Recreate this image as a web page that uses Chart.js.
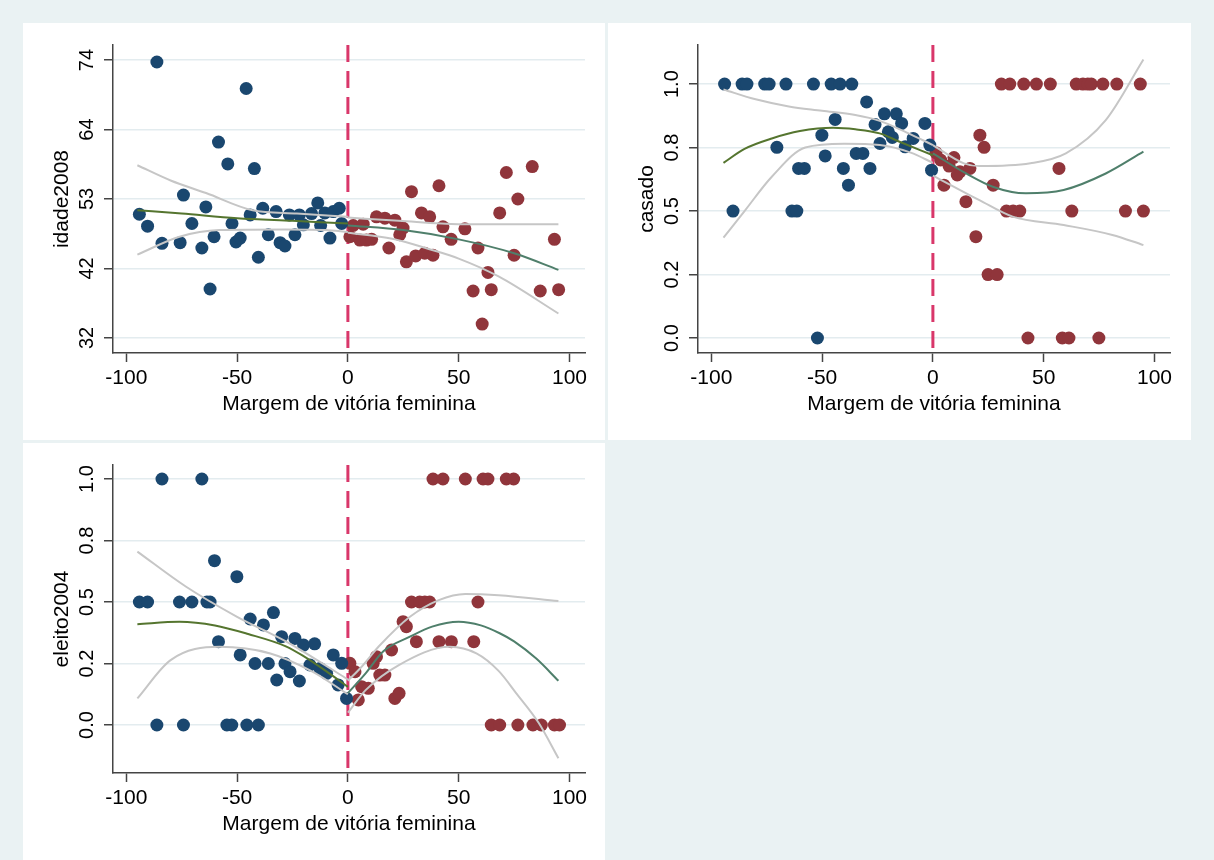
<!DOCTYPE html>
<html>
<head>
<meta charset="utf-8">
<script src="https://cdn.jsdelivr.net/npm/chart.js@4.4.1/dist/chart.umd.min.js"></script>
<style>
  html, body { margin: 0; padding: 0; background: #eaf2f3; }
  body { width: 1214px; height: 860px; position: relative; overflow: hidden; }
  .panel { position: absolute; background: #fff; }
  canvas { display: block; }
</style>
</head>
<body>
<div class="panel" style="left:23px;top:23px;width:582px;height:417px"><canvas id="c1" width="582" height="417"></canvas></div>
<div class="panel" style="left:608px;top:23px;width:583px;height:417px"><canvas id="c2" width="583" height="417"></canvas></div>
<div class="panel" style="left:23px;top:443px;width:582px;height:417px"><canvas id="c3" width="582" height="417"></canvas></div>
<script>
const xTicks = [-100, -50, 0, 50, 100];
const xTitle = "Margem de vitória feminina";

// --- idade2008 ---
const idadeTicks = [32, 42.5, 53, 63.5, 74];
const idadeTickLabels = ["32", "42", "53", "64", "74"];
const idadeLeft = [[-94.1,50.7],[-90.4,48.9],[-86.2,73.7],[-83.9,46.3],[-75.7,46.4],[-74.2,53.6],[-70.4,49.3],
  [-65.9,45.6],[-64.1,51.8],[-62.2,39.4],[-60.4,47.3],[-58.4,61.6],[-54.2,58.3],[-52.3,49.3],[-50.5,46.5],
  [-48.6,47.1],[-45.9,69.7],[-44.1,50.6],[-42.2,57.6],[-40.4,44.2],[-38.4,51.6],[-35.9,47.6],[-32.4,51.1],
  [-30.6,46.4],[-28.4,45.9],[-26.4,50.6],[-23.9,47.6],[-21.9,50.6],[-20.1,49.1],[-16.4,50.8],[-13.6,52.4],
  [-12.3,49.0],[-10.4,50.9],[-8.1,47.1],[-6.6,51.1],[-3.9,51.6],[-2.8,49.3]];
const idadeRight = [[0.9,47.3],[2.4,49.0],[5.4,46.8],[6.9,49.2],[8.4,46.8],[10.7,46.9],[12.9,50.3],[16.7,50.1],
  [21.2,49.8],[18.5,45.6],[23.4,47.6],[24.9,48.6],[26.4,43.5],[28.7,54.1],[30.6,44.4],[33.2,50.9],[34.7,44.8],
  [36.9,50.3],[38.4,44.5],[41.1,55.0],[42.9,48.8],[46.6,46.9],[52.8,48.5],[56.5,39.1],[58.7,45.6],[60.6,34.1],
  [63.2,41.9],[64.7,39.3],[68.5,50.9],[71.5,57.0],[75.0,44.5],[76.7,53.0],[83.2,57.9],[86.8,39.1],[93.2,46.9],
  [95.1,39.3]];
const idadeFitL = [[-95,51.3],[-75,50.8],[-50,50.1],[-25,49.7],[0,49.3]];
const idadeUpL = [[-95,58.1],[-80,55.8],[-64,53.9],[-43,51.3],[-23,50.8],[0,50.3]];
const idadeLoL = [[-95,44.6],[-76,47.3],[-58,48.3],[-28,48.4],[-10,48.3],[0,48.0]];
const idadeFitR = [[0,49.0],[25,48.3],[50,46.9],[75,44.8],[95,42.3]];
const idadeUpR = [[0,50.2],[23,49.7],[50,49.2],[75,49.2],[95,49.2]];
const idadeLoR = [[0,47.9],[20,47.0],[38,45.3],[50,44.0],[68,41.3],[95,35.7]];

// --- casado ---
const shareTicks = [0, 0.25, 0.5, 0.75, 1];
const shareTickLabels = ["0.0", "0.2", "0.5", "0.8", "1.0"];
const casadoLeft = [[-94.0,1],[-86.1,1],[-83.9,1],[-75.9,1],[-73.9,1],[-66.3,1],[-53.9,1],[-45.9,1],[-41.9,1],[-36.6,1],
  [-29.9,0.93],[-21.9,0.883],[-16.5,0.883],[-44.1,0.861],[-26.1,0.841],[-14.1,0.845],[-3.6,0.845],[-50.1,0.799],
  [-20.1,0.812],[-18.3,0.79],[-23.9,0.766],[-70.4,0.751],[-12.5,0.753],[-8.9,0.786],[-1.4,0.76],[-48.6,0.717],
  [-34.6,0.727],[-31.6,0.727],[-60.6,0.668],[-58.0,0.668],[-40.4,0.668],[-28.4,0.668],[-38.1,0.602],[-90.2,0.5],
  [-63.6,0.5],[-61.4,0.5],[-52.1,0],[-0.6,0.661]];
const casadoRight = [[30.9,1],[34.7,1],[41.0,1],[46.7,1],[53.0,1],[64.7,1],[67.7,1],[69.9,1],[71.5,1],[76.7,1],[83.0,1],[93.6,1],
  [21.2,0.799],[23.1,0.751],[1.4,0.73],[3.5,0.701],[9.5,0.711],[7.3,0.677],[12.2,0.655],[16.7,0.668],[11.0,0.642],
  [5.0,0.602],[27.2,0.602],[56.9,0.668],[14.9,0.537],[33.2,0.5],[36.2,0.5],[39.2,0.5],[62.7,0.5],[86.9,0.5],[95.0,0.5],
  [19.4,0.399],[24.9,0.25],[29.0,0.25],[42.9,0],[58.4,0],[61.4,0],[74.9,0]];
const casadoFitL = [[-94.5,0.69],[-85,0.745],[-72.7,0.786],[-60,0.815],[-45,0.828],[-35,0.822],[-24,0.806],[-15.6,0.775],[0,0.72]];
const casadoUpL = [[-94.5,0.979],[-80,0.94],[-65,0.912],[-50,0.895],[-35,0.878],[-24,0.855],[-12,0.81],[0,0.76]];
const casadoLoL = [[-94.5,0.395],[-85,0.5],[-72.7,0.635],[-57.6,0.75],[-40,0.765],[-24,0.76],[-10,0.73],[0,0.69]];
const casadoFitR = [[0,0.727],[15,0.648],[27,0.596],[42,0.57],[59,0.583],[78,0.648],[95,0.734]];
const casadoUpR = [[0,0.76],[14,0.688],[21,0.677],[44,0.688],[60,0.727],[78,0.858],[95,1.097]];
const casadoLoR = [[0,0.64],[21,0.543],[36,0.478],[59,0.445],[81,0.406],[95,0.366]];

// --- eleito2004 ---
const eleitoLeft = [[-83.9,1],[-65.9,1],[-94.1,0.5],[-90.4,0.5],[-76.0,0.5],[-70.4,0.5],[-63.6,0.5],[-62.2,0.5],
  [-60.2,0.668],[-50.1,0.603],[-44.1,0.431],[-38.1,0.407],[-33.6,0.457],[-29.9,0.359],[-23.9,0.352],[-20.0,0.325],
  [-15.0,0.33],[-58.4,0.339],[-48.6,0.285],[-41.9,0.25],[-35.9,0.25],[-28.4,0.25],[-26.1,0.217],[-32.1,0.183],
  [-21.9,0.179],[-17.1,0.244],[-6.6,0.285],[-2.8,0.251],[-12.6,0.23],[-9.6,0.21],[-4.4,0.163],[-0.6,0.108],
  [-86.2,0],[-74.2,0],[-54.6,0],[-52.4,0],[-45.6,0],[-40.4,0]];
const eleitoRight = [[38.4,1],[42.9,1],[53.0,1],[61.0,1],[63.2,1],[71.5,1],[74.8,1],[28.7,0.5],[32.4,0.5],[34.7,0.5],
  [36.9,0.5],[58.7,0.5],[24.9,0.42],[26.4,0.4],[30.9,0.339],[41.1,0.339],[46.7,0.339],[56.8,0.339],[0.9,0.251],
  [3.2,0.217],[6.2,0.156],[9.2,0.149],[4.7,0.102],[11.4,0.251],[12.9,0.278],[14.4,0.203],[16.7,0.203],[19.7,0.305],
  [21.2,0.108],[23.1,0.129],[64.7,0],[68.5,0],[76.7,0],[83.5,0],[87.3,0],[93.2,0],[95.5,0]];
const eleitoFitL = [[-95,0.41],[-76,0.42],[-60,0.405],[-45,0.37],[-28,0.32],[-20,0.28],[-10,0.22],[0,0.155]];
const eleitoUpL = [[-95,0.705],[-73,0.562],[-50,0.44],[-28,0.34],[-15,0.27],[0,0.185]];
const eleitoLoL = [[-95,0.108],[-80,0.264],[-58,0.318],[-35,0.291],[-16,0.217],[0,0.125]];
const eleitoFitR = [[0,0.13],[8,0.21],[16,0.3],[28,0.359],[38,0.4],[50,0.42],[60,0.405],[68.5,0.373],[75,0.34],[85,0.27],[95,0.18]];
const eleitoUpR = [[0,0.18],[6,0.235],[14,0.32],[28,0.44],[41,0.508],[53,0.533],[68,0.528],[95,0.504]];
const eleitoLoR = [[0,0.05],[8,0.142],[23,0.244],[46,0.318],[58,0.291],[68,0.22],[76,0.129],[86,0.01],[95,-0.135]];

const NAVY = "#1a476f", MAROON = "#90353b", GREEN = "#55752f", TEAL = "#4f7f6b";
const CI = "#c6c6c6", XLINE = "#d9376a", AXIS = "#444", GRID = "#e3ecef";
const FONT = '"Liberation Sans", Arial, Helvetica, sans-serif';

const axisText = {
  id: "axisText",
  afterDraw(chart, args, opts) {
    const { ctx, chartArea: a } = chart;
    const y = chart.scales.y;
    ctx.save();
    ctx.fillStyle = "#000";
    ctx.textAlign = "center";
    ctx.textBaseline = "alphabetic";
    ctx.font = "20px " + FONT;
    opts.ticks.forEach((v, i) => {
      ctx.save();
      ctx.translate(a.left - 20, y.getPixelForValue(v));
      ctx.rotate(-Math.PI / 2);
      ctx.fillText(opts.labels[i], 0, 0);
      ctx.restore();
    });
    ctx.font = "21px " + FONT;
    ctx.save();
    ctx.translate(a.left - 45, (a.top + a.bottom) / 2);
    ctx.rotate(-Math.PI / 2);
    ctx.fillText(opts.title, 0, 0);
    ctx.restore();
    ctx.fillText(xTitle, (a.left + a.right) / 2, a.bottom + 57);
    ctx.restore();
  }
};

function pts(arr) { return arr.map(([x, y]) => ({ x, y })); }

function curve(arr, color, order) {
  return { data: pts(arr), showLine: true, borderColor: color, borderWidth: 2, pointRadius: 0,
           cubicInterpolationMode: "monotone", order };
}

function dots(arr, color) {
  return { data: pts(arr), backgroundColor: color, borderColor: color, borderWidth: 0,
           pointRadius: 6.5, order: 5 };
}

function panel(id, o) {
  new Chart(document.getElementById(id), {
    type: "scatter",
    data: {
      datasets: [
        { data: [{ x: 0, y: o.max }, { x: 0, y: o.min }], showLine: true, borderColor: XLINE,
          borderWidth: 3, borderDash: [17, 9], pointRadius: 0, tension: 0, order: 10 },
        dots(o.left, NAVY),
        dots(o.right, MAROON),
        curve(o.upL, CI, 2), curve(o.loL, CI, 2),
        curve(o.upR, CI, 2), curve(o.loR, CI, 2),
        curve(o.fitL, GREEN, 1), curve(o.fitR, TEAL, 1)
      ]
    },
    options: {
      responsive: false,
      animation: false,
      events: [],
      layout: { padding: { top: 22, right: o.padR, left: 0, bottom: 0 } },
      plugins: {
        legend: { display: false },
        tooltip: { enabled: false },
        axisText: { ticks: o.ticks, labels: o.labels, title: o.title }
      },
      scales: {
        x: {
          type: "linear", min: -106, max: 107,
          afterBuildTicks: s => { s.ticks = xTicks.map(v => ({ value: v })); },
          afterFit: s => { s.height = 87; },
          grid: { drawOnChartArea: false, tickLength: 9, tickColor: AXIS, tickWidth: 1.5 },
          border: { color: AXIS, width: 1.5 },
          ticks: { color: "#000", font: { size: 21, family: FONT }, padding: 4, maxRotation: 0, autoSkip: false }
        },
        y: {
          type: "linear", min: o.min, max: o.max,
          afterBuildTicks: s => { s.ticks = o.ticks.map(v => ({ value: v })); },
          afterFit: s => { s.width = 90; },
          grid: { color: GRID, lineWidth: 1.5, tickLength: 9, tickColor: AXIS, tickWidth: 1.5 },
          border: { color: AXIS, width: 1.5 },
          ticks: { display: false }
        }
      }
    },
    plugins: [axisText]
  });
}

panel("c1", { min: 29.73, max: 76.27, ticks: idadeTicks, labels: idadeTickLabels, title: "idade2008", padR: 20,
  left: idadeLeft, right: idadeRight, fitL: idadeFitL, upL: idadeUpL, loL: idadeLoL,
  fitR: idadeFitR, upR: idadeUpR, loR: idadeLoR });
panel("c2", { min: -0.059, max: 1.154, ticks: shareTicks, labels: shareTickLabels, title: "casado", padR: 21,
  left: casadoLeft, right: casadoRight, fitL: casadoFitL, upL: casadoUpL, loL: casadoLoL,
  fitR: casadoFitR, upR: casadoUpR, loR: casadoLoR });
panel("c3", { min: -0.195, max: 1.057, ticks: shareTicks, labels: shareTickLabels, title: "eleito2004", padR: 20,
  left: eleitoLeft, right: eleitoRight, fitL: eleitoFitL, upL: eleitoUpL, loL: eleitoLoL,
  fitR: eleitoFitR, upR: eleitoUpR, loR: eleitoLoR });
</script>
</body>
</html>
